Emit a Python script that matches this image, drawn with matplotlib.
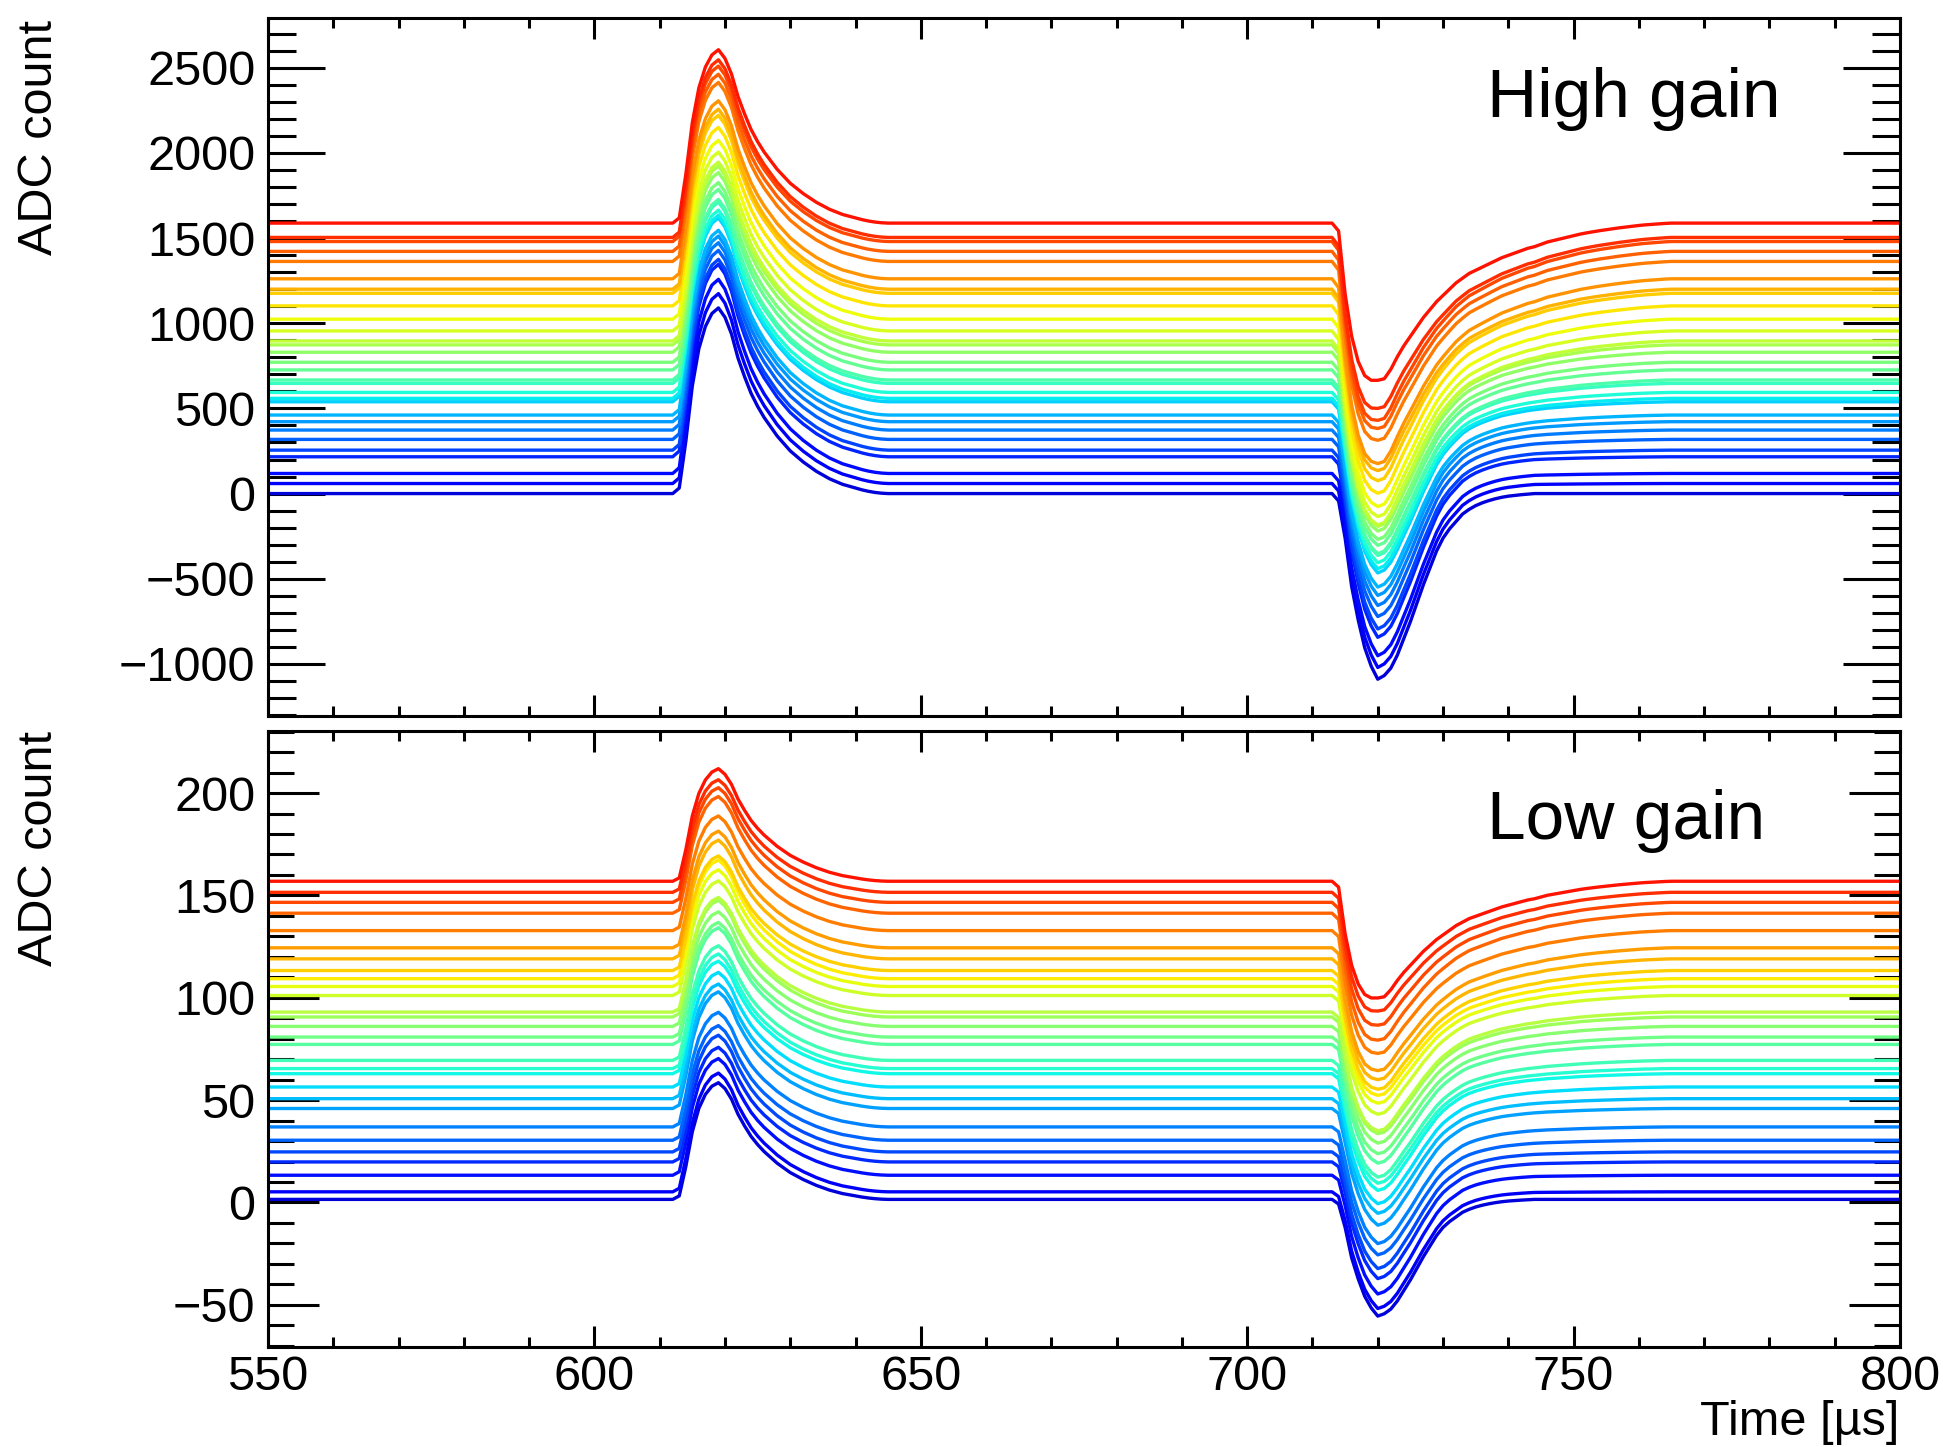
import numpy as np
import matplotlib
matplotlib.use("Agg")
from matplotlib import pyplot as plt
from matplotlib.ticker import MultipleLocator

plt.rcParams['font.family'] = ['Liberation Sans', 'DejaVu Sans']

pulse_t = np.arange(612, 646)
pulse_shape = [0, 0.03, 0.28, 0.58, 0.78, 0.90, 0.97, 1.0, 0.95, 0.86, 0.73, 0.63,
               0.54, 0.47, 0.41, 0.36, 0.31, 0.27, 0.23, 0.20, 0.17, 0.145, 0.12,
               0.10, 0.08, 0.065, 0.05, 0.04, 0.03, 0.02, 0.012, 0.006, 0.002, 0.0]

dip_t = np.arange(713, 766)
dip_fast = [0, -0.04, -0.24, -0.50, -0.68, -0.83, -0.93, -1.0, -0.98, -0.94, -0.87,
            -0.78, -0.69, -0.59, -0.49, -0.40, -0.31, -0.24, -0.19, -0.15, -0.11,
            -0.085, -0.065, -0.05, -0.038, -0.028, -0.02, -0.014, -0.01, -0.006,
            -0.003] + [0] * 22
dip_slow = [0, -0.05, -0.45, -0.72, -0.88, -0.97, -1.0, -1.0, -0.99, -0.93, -0.85,
            -0.78, -0.72, -0.66, -0.60, -0.55, -0.50, -0.46, -0.42, -0.38, -0.35,
            -0.32, -0.30, -0.28, -0.26, -0.24, -0.22, -0.205, -0.19, -0.175, -0.16,
            -0.15, -0.135, -0.12, -0.11, -0.10, -0.09, -0.08, -0.07, -0.062, -0.055,
            -0.048, -0.042, -0.036, -0.03, -0.025, -0.02, -0.015, -0.011, -0.008,
            -0.005, -0.002, 0]

# high gain: baselines, pulse heights, dip depths (ADC counts)
hg_base = [0, 59, 118, 216, 255, 318, 373, 422, 461, 539, 559, 594, 647, 667, 726,
           771, 830, 873, 896, 955, 1024, 1102, 1176, 1200, 1261, 1363, 1422, 1480,
           1504, 1588]
hg_peak = [1090, 1115, 1140, 1130, 1120, 1110, 1100, 1090, 1085, 1080, 1075, 1070,
           1065, 1060, 1060, 1055, 1055, 1050, 1050, 1050, 1050, 1048, 1045, 1057,
           1045, 1051, 1040, 1030, 1043, 1018]
hg_dip = [1090, 1080, 1070, 1060, 1050, 1040, 1030, 1020, 1010, 1005, 1000, 1000,
          1010, 1020, 1030, 1040, 1050, 1066, 1080, 1090, 1100, 1100, 1100, 1065,
          1085, 1050, 1040, 1050, 1004, 923]

# low gain
lg_base = [1.5, 5.2, 13.3, 19.8, 24.7, 30.4, 36.9, 45.9, 50.7, 56.4, 62.9, 65.4,
           69.4, 77.2, 80.8, 86.0, 90.6, 93.0, 101.1, 105.5, 109.3, 113.3, 119.0,
           124.4, 132.8, 141.3, 146.6, 151.5, 156.9]
lg_peak = [57, 58, 57, 56, 57, 56, 56, 57, 56, 56, 55, 56, 56, 57, 56, 56, 57, 56,
           56, 57, 58, 56, 58, 57, 56, 57, 56, 55, 55]
lg_dip = [57, 57, 58, 57, 57, 56, 57, 57, 56, 57, 57, 56, 57, 58, 57, 57, 57, 58,
          58, 57, 57, 58, 59, 60, 60, 62, 60, 58, 57]


def draw_traces(ax, base, peak, dip):
    n = len(base)
    colors = plt.cm.jet(np.linspace(0.08, 0.89, n))
    for i in range(n):
        w = i / (n - 1)
        shape = (1 - w) * np.array(dip_fast) + w * np.array(dip_slow)
        x = np.concatenate([[550.0], pulse_t, dip_t, [800.0]])
        y = np.concatenate([[base[i]],
                            base[i] + peak[i] * np.array(pulse_shape),
                            base[i] + dip[i] * shape,
                            [base[i]]])
        ax.plot(x, y, '-', color=colors[i], lw=2.4, solid_joinstyle='round')


fig = plt.figure(figsize=(19.43, 14.47), dpi=100)
ax1 = fig.add_axes([268 / 1943, 1 - 716 / 1447, 1632 / 1943, 697.6 / 1447])
ax2 = fig.add_axes([268 / 1943, 1 - 1347 / 1447, 1632 / 1943, 616 / 1447])

draw_traces(ax1, hg_base, hg_peak, hg_dip)
draw_traces(ax2, lg_base, lg_peak, lg_dip)

ax1.set_xlim(550, 800)
ax1.set_ylim(-1306, 2790)
ax2.set_xlim(550, 800)
ax2.set_ylim(-70.6, 230.3)

for ax, ymaj, ymin, ylen in [(ax1, 500, 100, 41), (ax2, 50, 10, 37)]:
    ax.xaxis.set_major_locator(MultipleLocator(50))
    ax.xaxis.set_minor_locator(MultipleLocator(10))
    ax.yaxis.set_major_locator(MultipleLocator(ymaj))
    ax.yaxis.set_minor_locator(MultipleLocator(ymin))
    ax.tick_params(which='both', direction='in', top=True, right=True,
                   width=2.2, labelsize=35)
    ax.tick_params(axis='y', which='major', length=ylen, pad=9)
    ax.tick_params(axis='y', which='minor', length=ylen / 2)
    ax.tick_params(axis='x', which='major', length=15, pad=6)
    ax.tick_params(axis='x', which='minor', length=7.5)
    for s in ax.spines.values():
        s.set_linewidth(2.2)

ax1.tick_params(axis='x', labelbottom=False)

ax1.text(0.747, 0.858, 'High gain', transform=ax1.transAxes, fontsize=50,
         va='baseline', ha='left')
ax2.text(0.747, 0.8246, 'Low gain', transform=ax2.transAxes, fontsize=50,
         va='baseline', ha='left')

fig.text(40 / 1943, 1 - 20 / 1447, 'ADC count', rotation=90, fontsize=35,
         ha='center', va='top')
fig.text(40 / 1943, 1 - 731 / 1447, 'ADC count', rotation=90, fontsize=35,
         ha='center', va='top')
fig.text(1899 / 1943, 0.008, 'Time [\u00b5s]', fontsize=35, ha='right',
         va='baseline')

fig.savefig('out.png', dpi=100)
